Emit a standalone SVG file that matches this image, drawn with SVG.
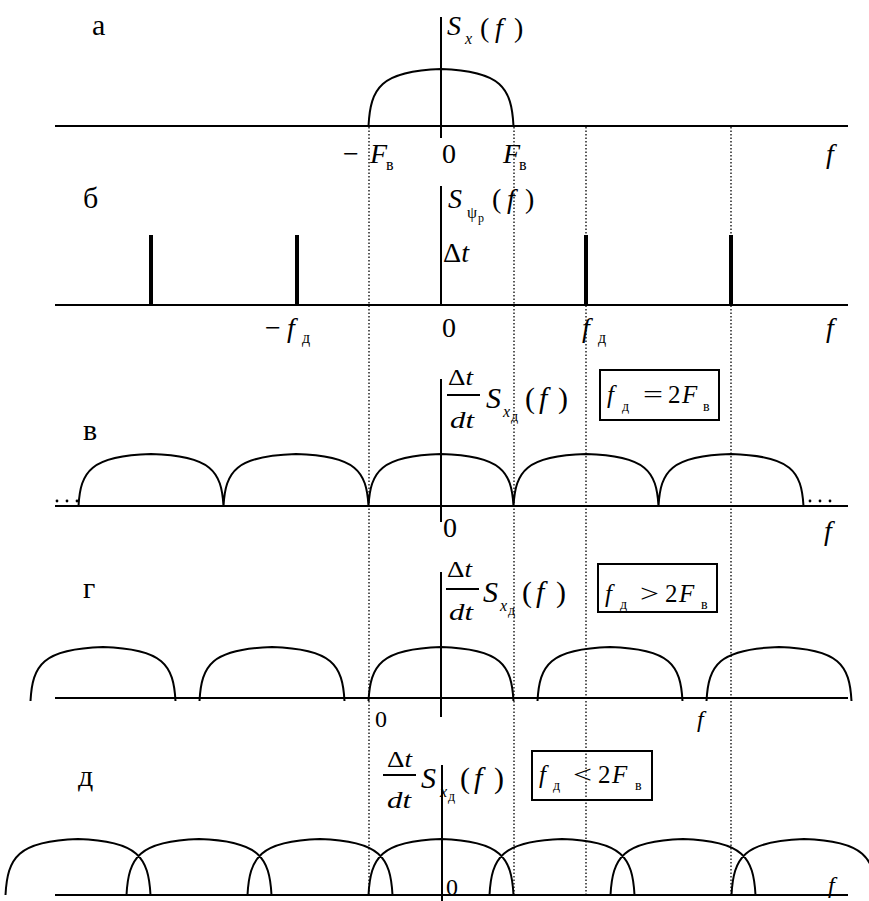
<svg xmlns="http://www.w3.org/2000/svg" width="869" height="901" viewBox="0 0 869 901">
<style>
text{font-family:"Liberation Serif","Times New Roman",Times,serif;fill:#000}
.i{font-style:italic}
.ax{stroke:#000;stroke-width:2;fill:none}
.hump{stroke:#000;stroke-width:2;fill:none}
.dot{stroke:#000;stroke-width:1.3;stroke-dasharray:1.5 2;fill:none}
.spike{stroke:#000;stroke-width:4}
.box{stroke:#000;stroke-width:2;fill:none}
.lab{font-size:30px}
.m{font-size:28px}
.mm{font-size:30px}
.fr{font-size:24px}
.bx{font-size:25px}
.sb{font-size:16px}
.s2{font-size:14px}
.ss{font-size:12px}
</style>
<rect width="869" height="901" fill="#fff"/>

<g id="guides">
<path class="dot" d="M369,127V895M514,127V895M586,127V895M731,127V895"/>
</g>

<g id="panel-a">
<text class="lab" x="92" y="35">а</text>
<path class="ax" d="M55,126H848M441,17V138"/>
<path class="hump" d="M368.5,126c2,-38 12,-55 72.5,-57c60.5,2 70.5,19 72.5,57"/>
<text class="m i" x="447" y="35">S</text>
<text class="sb i" x="465" y="44">x</text>
<text class="m" x="480" y="37">(</text>
<text class="m i" x="495" y="37">f</text>
<text class="m" x="514" y="37">)</text>
<text class="m" x="343" y="163">−</text>
<text class="m i" x="370" y="163">F</text>
<text class="sb" x="386" y="170">в</text>
<text class="m" x="442" y="163">0</text>
<text class="m i" x="503" y="163">F</text>
<text class="sb" x="519" y="170">в</text>
<text class="m i" x="826" y="163">f</text>
</g>

<g id="panel-b">
<text class="lab" x="83" y="208">б</text>
<path class="ax" d="M55,305H848M441,186V305"/>
<path class="spike" d="M151,235V305M297,235V305M586,235V305M731,235V305"/>
<text class="m i" x="448" y="208">S</text>
<text class="sb" x="467" y="218">ψ</text>
<text class="ss" x="478" y="222">р</text>
<text class="m" x="492" y="208">(</text>
<text class="m i" x="507" y="208">f</text>
<text class="m" x="525" y="208">)</text>
<text class="m" x="443" y="262" textLength="26" lengthAdjust="spacingAndGlyphs">Δ<tspan class="i">t</tspan></text>
<text class="m" x="265" y="337">−</text>
<text class="m i" x="287" y="337">f</text>
<text class="sb" x="302" y="343">д</text>
<text class="m" x="442" y="337">0</text>
<text class="m i" x="582" y="337">f</text>
<text class="sb" x="598" y="343">д</text>
<text class="m i" x="826" y="337">f</text>
</g>

<g id="panel-v">
<text class="lab" x="83" y="440">в</text>
<path class="ax" d="M55,506H848M441,379V522"/>
<g fill="#000"><circle cx="57" cy="501" r="1.4"/><circle cx="67" cy="501" r="1.4"/><circle cx="77" cy="501" r="1.4"/><circle cx="810" cy="501" r="1.4"/><circle cx="820" cy="501" r="1.4"/><circle cx="830" cy="501" r="1.4"/></g>
<path class="hump" d="M78.5,506c2,-34.7 12,-50.2 72.5,-52c60.5,1.8 70.5,17.3 72.5,52M223.5,506c2,-34.7 12,-50.2 72.5,-52c60.5,1.8 70.5,17.3 72.5,52M368.5,506c2,-34.7 12,-50.2 72.5,-52c60.5,1.8 70.5,17.3 72.5,52M513.5,506c2,-34.7 12,-50.2 72.5,-52c60.5,1.8 70.5,17.3 72.5,52M658.5,506c2,-34.7 12,-50.2 72.5,-52c60.5,1.8 70.5,17.3 72.5,52"/>
<text class="fr" x="448" y="385" textLength="25" lengthAdjust="spacingAndGlyphs">Δ<tspan class="i">t</tspan></text>
<path class="ax" stroke-width="1.5" d="M447,395H480"/>
<text class="fr i" x="450" y="428" textLength="24" lengthAdjust="spacingAndGlyphs">dt</text>
<text class="mm i" x="486" y="408">S</text>
<text class="sb i" x="503" y="417">x</text>
<text class="s2" x="511" y="421">д</text>
<text class="mm" x="525" y="408">(</text>
<text class="mm i" x="539" y="408">f</text>
<text class="mm" x="558" y="408">)</text>
<rect class="box" x="600" y="370" width="119" height="50"/>
<text class="bx i" x="607" y="403">f</text>
<text class="s2" x="622" y="411">д</text>
<text class="bx" x="643" y="403" textLength="20" lengthAdjust="spacingAndGlyphs">=</text>
<text class="bx" x="668" y="403">2</text>
<text class="bx i" x="682" y="403">F</text>
<text class="s2" x="703" y="411">в</text>
<text class="m" x="443" y="537">0</text>
<text class="m i" x="824" y="540">f</text>
</g>

<g id="panel-g">
<text class="lab" x="83" y="598">г</text>
<path class="ax" d="M55,698H848M441,572V717"/>
<path class="hump" d="M30.5,701c2,-36 12,-52.1 72.5,-54c60.5,1.9 70.5,18 72.5,54M199.5,701c2,-36 12,-52.1 72.5,-54c60.5,1.9 70.5,18 72.5,54M368.5,701c2,-36 12,-52.1 72.5,-54c60.5,1.9 70.5,18 72.5,54M537.5,701c2,-36 12,-52.1 72.5,-54c60.5,1.9 70.5,18 72.5,54M706.5,701c2,-36 12,-52.1 72.5,-54c60.5,1.9 70.5,18 72.5,54"/>
<text class="fr" x="447" y="577" textLength="25" lengthAdjust="spacingAndGlyphs">Δ<tspan class="i">t</tspan></text>
<path class="ax" stroke-width="1.5" d="M446,589H479"/>
<text class="fr i" x="449" y="620" textLength="24" lengthAdjust="spacingAndGlyphs">dt</text>
<text class="mm i" x="483" y="602">S</text>
<text class="sb i" x="500" y="611">x</text>
<text class="s2" x="508" y="615">д</text>
<text class="mm" x="522" y="602">(</text>
<text class="mm i" x="536" y="602">f</text>
<text class="mm" x="556" y="602">)</text>
<rect class="box" x="598" y="564" width="119" height="48"/>
<text class="bx i" x="605" y="602">f</text>
<text class="s2" x="620" y="609">д</text>
<text class="bx" x="640" y="602" textLength="19" lengthAdjust="spacingAndGlyphs">&gt;</text>
<text class="bx" x="665" y="602">2</text>
<text class="bx i" x="679" y="602">F</text>
<text class="s2" x="701" y="609">в</text>
<text class="fr" x="375" y="727">0</text>
<text class="fr i" x="697" y="727">f</text>
</g>

<g id="panel-d">
<text class="lab" x="78" y="786">д</text>
<path class="ax" d="M55,895H848M442,765V901"/>
<path class="hump" d="M5.5,895c2,-37.4 12,-54 72.5,-56c60.5,2 70.5,18.6 72.5,56M126.5,895c2,-37.4 12,-54 72.5,-56c60.5,2 70.5,18.6 72.5,56M247.5,895c2,-37.4 12,-54 72.5,-56c60.5,2 70.5,18.6 72.5,56M368.5,895c2,-37.4 12,-54 72.5,-56c60.5,2 70.5,18.6 72.5,56M489.5,895c2,-37.4 12,-54 72.5,-56c60.5,2 70.5,18.6 72.5,56M610.5,895c2,-37.4 12,-54 72.5,-56c60.5,2 70.5,18.6 72.5,56M731.5,895c2,-37.4 12,-54 72.5,-56c60.5,2 70.5,18.6 72.5,56"/>
<text class="fr" x="387" y="767" textLength="25" lengthAdjust="spacingAndGlyphs">Δ<tspan class="i">t</tspan></text>
<path class="ax" stroke-width="1.5" d="M383,775H416"/>
<text class="fr i" x="387" y="808" textLength="24" lengthAdjust="spacingAndGlyphs">dt</text>
<text class="mm i" x="421" y="788">S</text>
<text class="sb i" x="440" y="797">x</text>
<text class="s2" x="448" y="801">д</text>
<text class="mm" x="460" y="788">(</text>
<text class="mm i" x="474" y="788">f</text>
<text class="mm" x="494" y="788">)</text>
<rect class="box" x="532" y="751" width="120" height="49"/>
<text class="bx i" x="539" y="783">f</text>
<text class="s2" x="553" y="790">д</text>
<text class="bx" x="573" y="783" textLength="19" lengthAdjust="spacingAndGlyphs">&lt;</text>
<text class="bx" x="598" y="783">2</text>
<text class="bx i" x="612" y="783">F</text>
<text class="s2" x="635" y="790">в</text>
<text class="fr" x="446" y="895">0</text>
<text class="fr i" x="828" y="893">f</text>
</g>
</svg>
